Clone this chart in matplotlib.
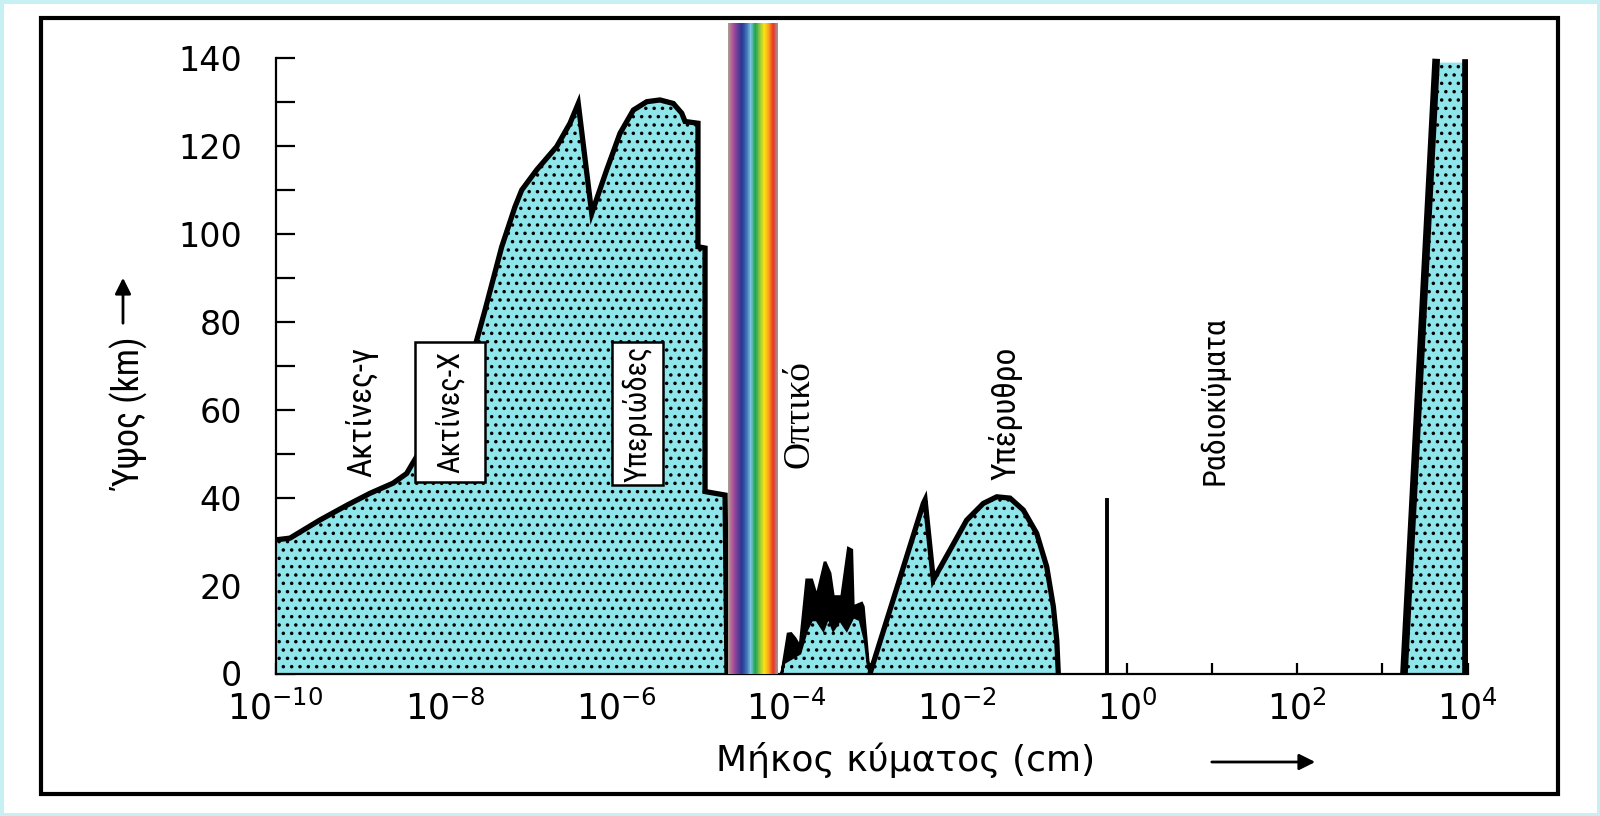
import numpy as np
import matplotlib.pyplot as plt
from matplotlib import font_manager
from matplotlib.colors import LinearSegmentedColormap
from matplotlib.patches import Rectangle, FancyArrowPatch

# wavelength given as log10(cm), altitude in km
uv_exp = [-10.0, -9.83, -9.48, -9.16, -8.89, -8.62, -8.46, -8.39, -8.01, -7.643,
          -7.539, -7.343, -7.187, -7.108, -6.932, -6.697, -6.541, -6.444, -6.286,
          -6.110, -5.954, -5.797, -5.640, -5.484, -5.328, -5.229, -5.190, -5.038,
          -5.038, -4.955, -4.955, -4.720, -4.697]
uv_alt = [30.4, 30.8, 34.9, 38.3, 41.0, 43.3, 45.5, 47.8, 60.0, 75.4,
          82.7, 97.1, 106.2, 110.0, 114.6, 119.9, 125.2, 129.7, 104.7,
          114.6, 122.9, 128.2, 130.1, 130.5, 129.7, 127.5, 125.6, 125.2,
          97.1, 96.8, 41.4, 40.6, 0.0]

# jagged band just right of the visible window: upper and lower edge
rip_top_exp = [-4.054, -3.980, -3.945, -3.898, -3.840, -3.761, -3.702, -3.643, -3.546,
               -3.487, -3.448, -3.350, -3.272, -3.232, -3.214, -3.115, -3.096, -3.037, -3.017]
rip_top = [0.0, 9.0, 9.1, 8.0, 6.1, 21.3, 21.3, 17.5, 25.4,
           22.8, 17.5, 17.5, 28.5, 28.1, 15.2, 16.0, 15.2, 2.3, 0.0]
rip_low_exp = [-4.054, -4.030, -3.840, -3.761, -3.702, -3.643, -3.566, -3.508, -3.449,
               -3.370, -3.291, -3.214, -3.135, -3.076, -3.037, -3.017]
rip_low = [0.0, 2.4, 4.6, 9.9, 12.2, 12.2, 9.9, 12.9, 9.9,
           12.2, 9.9, 12.9, 12.2, 7.6, 1.5, 0.0]

ir_exp = [-3.017, -2.391, -2.371, -2.274, -2.078, -1.882, -1.687, -1.529, -1.373,
          -1.217, -1.060, -0.942, -0.864, -0.824, -0.806]
ir_alt = [0.0, 38.7, 39.5, 21.3, 28.1, 34.9, 38.7, 40.2, 39.9,
          37.2, 31.9, 24.3, 15.2, 7.6, 0.0]

line_exp = -0.237
line_alt = 39.5

radio_exp = [3.254, 3.630, 3.977, 3.977]
radio_alt = [0.0, 139.0, 139.0, 0.0]

visible_exp = [-4.686, -4.099]
visible_top = 148.0

major_exp = [-10, -8, -6, -4, -2, 0, 2, 4]
minor_exp = [-9, -7, -5, -3, -1, 1, 3]
y_major = [0, 20, 40, 60, 80, 100, 120, 140]
y_minor = [10, 30, 50, 70, 90, 110, 130]

rainbow = ['#a8a090', '#b4509c', '#6b3f98', '#2b3690', '#3a6cb4', '#7cc0e0',
           '#17a44c', '#8dc63f', '#fbe514', '#f7a21b', '#ee3124', '#9a9a9a']

cyan = '#8fe6ea'

# pick a condensed face if there is one
installed = {f.name for f in font_manager.fontManager.ttflist}
lab_font, lab_size, box_size = 'Roboto', 20, 18
for name in ['Roboto Condensed', 'Liberation Sans Narrow', 'Open Sans Condensed']:
    if name in installed:
        lab_font, lab_size, box_size = name, 24, 22
        break
narrow = [lab_font, 'DejaVu Sans']

plt.rcParams['font.family'] = ['DejaVu Sans']
plt.rcParams['mathtext.default'] = 'regular'
plt.rcParams['hatch.linewidth'] = 1.3

W, H = 1600, 816
fig = plt.figure(figsize=(16, 8.16), dpi=100, facecolor='white')
ax = fig.add_axes([275.5 / W, 1 - 673.5 / H, 1192 / W, 615.3 / H])

# main absorption curve (gamma, X, UV)
ux = 10.0 ** np.array(uv_exp)
ax.fill_between(ux, 0, uv_alt, facecolor=cyan, edgecolor='black', linewidth=0,
                hatch='..', zorder=2)
ax.plot(ux, uv_alt, color='black', lw=3.8, solid_joinstyle='miter', zorder=3)

# ripple band
lx = 10.0 ** np.array(rip_low_exp)
ax.fill_between(lx, 0, rip_low, facecolor=cyan, edgecolor='black', linewidth=0,
                hatch='..', zorder=2)
px = np.concatenate([10.0 ** np.array(rip_top_exp), lx[::-1]])
py = np.concatenate([rip_top, rip_low[::-1]])
ax.fill(px, py, facecolor='black', edgecolor='black', lw=2, zorder=3)

# infrared hump
ix = 10.0 ** np.array(ir_exp)
ax.fill_between(ix, 0, ir_alt, facecolor=cyan, edgecolor='black', linewidth=0,
                hatch='..', zorder=2)
ax.plot(ix, ir_alt, color='black', lw=3.8, solid_joinstyle='miter', zorder=3)

# narrow line near 1 cm
ax.plot([10.0 ** line_exp] * 2, [0, line_alt], color='black', lw=2.8, zorder=3)

# radio window
rx = 10.0 ** np.array(radio_exp)
ax.fill_between(rx, 0, radio_alt, facecolor=cyan, edgecolor='black', linewidth=0,
                hatch='..', zorder=2)
ax.plot(rx[:2], radio_alt[:2], color='black', lw=5.5, zorder=3)
ax.plot(rx[2:], radio_alt[2:], color='black', lw=5.5, zorder=3)

# visible window drawn as a rainbow strip
cmap = LinearSegmentedColormap.from_list('rb', rainbow)
n = 120
edges = np.linspace(visible_exp[0], visible_exp[1], n + 1)
for i in range(n):
    x0, x1 = 10.0 ** edges[i], 10.0 ** edges[i + 1]
    ax.add_patch(Rectangle((x0, 0), (x1 - x0) * 1.05, visible_top, facecolor=cmap(i / (n - 1)),
                           edgecolor='none', lw=0, clip_on=False, zorder=4))

# white label boxes for X-rays and UV
for e0, e1, y0, y1 in [(-8.361, -7.539, 43.6, 75.4), (-6.047, -5.448, 42.9, 75.4)]:
    ax.add_patch(Rectangle((10.0 ** e0, y0), 10.0 ** e1 - 10.0 ** e0, y1 - y0,
                           facecolor='white', edgecolor='black', lw=1.8, zorder=5))

# band labels
ax.text(10.0 ** -8.984, 59.5, 'Ακτίνες-γ', rotation=90, ha='center', va='center',
        fontsize=lab_size, family=narrow, zorder=6)
ax.text(10.0 ** -7.95, 59.5, 'Ακτίνες-X', rotation=90, ha='center', va='center',
        fontsize=box_size, family=narrow, zorder=6)
ax.text(10.0 ** -5.748, 59.2, 'Υπεριώδες', rotation=90, ha='center', va='center',
        fontsize=box_size, family=narrow, zorder=6)
ax.text(10.0 ** -3.851, 59.0, 'Οπτικό', rotation=90, ha='center', va='center',
        fontsize=27, family=['Liberation Serif', 'DejaVu Serif'], zorder=6)
ax.text(10.0 ** -1.431, 59.3, 'Υπέρυθρο', rotation=90, ha='center', va='center',
        fontsize=lab_size, family=narrow, zorder=6)
ax.text(10.0 ** 1.024, 62.2, 'Ραδιοκύματα', rotation=90, ha='center', va='center',
        fontsize=lab_size - 1, family=narrow, zorder=6)

# axes styling
ax.set_xscale('log')
ax.set_xlim(1e-10, 1e4)
ax.set_ylim(0, 140)
ax.set_facecolor('none')
for s in ['top', 'right']:
    ax.spines[s].set_visible(False)
ax.spines['left'].set_linewidth(1.6)
ax.spines['bottom'].set_linewidth(1.6)

ax.set_xticks([10.0 ** e for e in major_exp])
ax.set_xticklabels(['$10^{%d}$' % e for e in major_exp])
ax.set_xticks([10.0 ** e for e in minor_exp], minor=True)
ax.set_xticklabels([], minor=True)
ax.set_yticks(y_major)
ax.set_yticks(y_minor, minor=True)
ax.tick_params(axis='x', which='both', direction='in', length=8, width=1.6, pad=12,
               labelsize=25)
ax.tick_params(axis='y', which='both', direction='in', length=14, width=1.6, pad=24,
               labelsize=24)

# axis titles with arrows
fig.text(131 / W, 1 - 414 / H, 'Ύψος (km)', rotation=90, ha='center', va='center',
         fontsize=lab_size + 2, family=narrow)
fig.add_artist(FancyArrowPatch(
    (123 / W, 1 - 326 / H), (123 / W, 1 - 275 / H), transform=fig.transFigure,
    arrowstyle='-|>', mutation_scale=24, lw=2, color='black'))
fig.text(906 / W, 1 - 760 / H, 'Μήκος κύματος (cm)', ha='center', va='center',
         fontsize=26)
fig.add_artist(FancyArrowPatch(
    (1209 / W, 1 - 762 / H), (1318 / W, 1 - 762 / H), transform=fig.transFigure,
    arrowstyle='-|>', mutation_scale=24, lw=2, color='black'))

# outer frame and light cyan page edge
fig.add_artist(Rectangle((41 / W, 1 - 794 / H), 1517 / W, 776 / H, transform=fig.transFigure,
                         fill=False, lw=3, edgecolor='black'))
fig.add_artist(Rectangle((0, 0), 1, 1, transform=fig.transFigure, fill=False, lw=5,
                         edgecolor='#c6f0f2'))

fig.savefig('out.png', dpi=100, facecolor='white')
